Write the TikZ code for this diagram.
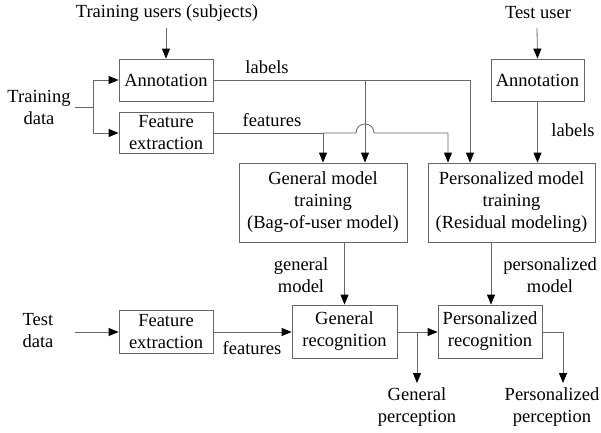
\documentclass[tikz,border=0pt]{standalone}
\usepackage{fontspec}
\setmainfont{Liberation Serif}
\usetikzlibrary{arrows.meta}
\begin{document}
\begin{tikzpicture}[x=1pt,y=-1pt,
  every node/.style={font=\fontsize{18.5}{22}\selectfont, align=center, inner sep=0pt},
  box/.style={draw=black!60, line width=0.8pt, minimum width=#1},
  ln/.style={draw=black!60, line width=0.8pt},
  arr/.style={ln, -{Triangle[length=10pt,width=8pt,color=black]}}]
\useasboundingbox (0,0) rectangle (601,432);
% nodes
\node (tu) at (167,13) {Training users (subjects)};
\node (tuser) at (538,13) {Test user};
\node (td) at (39,107) {Training\\data};
\node (testd) at (38,331) {Test\\data};
\node[box, minimum width=94pt, minimum height=42pt] (ann1) at (166,80) {Annotation};
\node[box, minimum width=94pt, minimum height=41pt] (fe1) at (166,132.5) {Feature\\extraction};
\node[box, minimum width=93pt, minimum height=42pt] (ann2) at (537.5,80) {Annotation};
\node[box, minimum width=168pt, minimum height=79pt] (gmt) at (323,202.5) {General model\\training\\(Bag-of-user model)};
\node[box, minimum width=167pt, minimum height=79pt] (pmt) at (511.5,202.5) {Personalized model\\training\\(Residual modeling)};
\node[box, minimum width=94pt, minimum height=43pt] (fe2) at (166,331.5) {Feature\\extraction};
\node[box, minimum width=105pt, minimum height=53pt] (gr) at (344.5,331.5) {General\\recognition};
\node[box, minimum width=104pt, minimum height=53pt] (pr) at (490,331.5) {Personalized\\recognition};
\node (gp) at (417,407) {General\\perception};
\node (pp) at (552,407) {Personalized\\perception};
% labels
\node (l1) at (267,67) {labels};
\node (l2) at (272,120) {features};
\node (l3) at (573,130) {labels};
\node (l4) at (301,275) {general\\model};
\node (l5) at (550,275) {personalized\\model};
\node (l6) at (252,348) {features};
% coordinates
\coordinate (tus) at (166,28);
\coordinate (tuu) at (537,28);
\coordinate (tde) at (75,107);
\coordinate (b1) at (93,107);
\coordinate (b1a) at (93,80);
\coordinate (b1b) at (93,133);
\coordinate (lc) at (470,80);
\coordinate (lv) at (365,80);
\coordinate (fa) at (323,133);
\coordinate (j1) at (356,133);
\coordinate (j2) at (374,133);
\coordinate (fb) at (448,133);
\coordinate (tdw) at (75,332);
\coordinate (g1) at (417,332);
\coordinate (g2) at (417,383);
\coordinate (p1) at (563,332);
\coordinate (p2) at (563,383);
\coordinate (pm) at (491,242);
% connectors
\draw[arr] (tus) -- (ann1.north);
\draw[arr] (tuu) -- (ann2.north);
\draw[ln] (tde) -- (b1);
\draw[arr] (b1) -- (b1a) -- (ann1.west);
\draw[arr] (b1) -- (b1b) -- (fe1.west |- b1b);
\draw[arr] (ann1.east |- lc) -- (lc) -- (lc |- pmt.north);
\draw[arr] (lv) -- (lv |- gmt.north);
\draw[arr] (fe1.east |- fa) -- (fa) -- (fa |- gmt.north);
\draw[arr] (fa) -- (j1) .. controls (356,121) and (374,121) .. (j2) -- (fb) -- (fb |- pmt.north);
\draw[arr] (ann2.south) -- (ann2.south |- pmt.north);
\draw[arr] (gmt.south -| gr.north) -- (gr.north);
\draw[arr] (pm) -- (pm |- pr.north);
\draw[arr] (tdw) -- (fe2.west |- tdw);
\draw[arr] (fe2.east |- tdw) -- (gr.west |- tdw);
\draw[arr] (gr.east |- g1) -- (pr.west |- g1);
\draw[arr] (g1) -- (g2);
\draw[arr] (pr.east |- p1) -- (p1) -- (p2);
\end{tikzpicture}
\end{document}
